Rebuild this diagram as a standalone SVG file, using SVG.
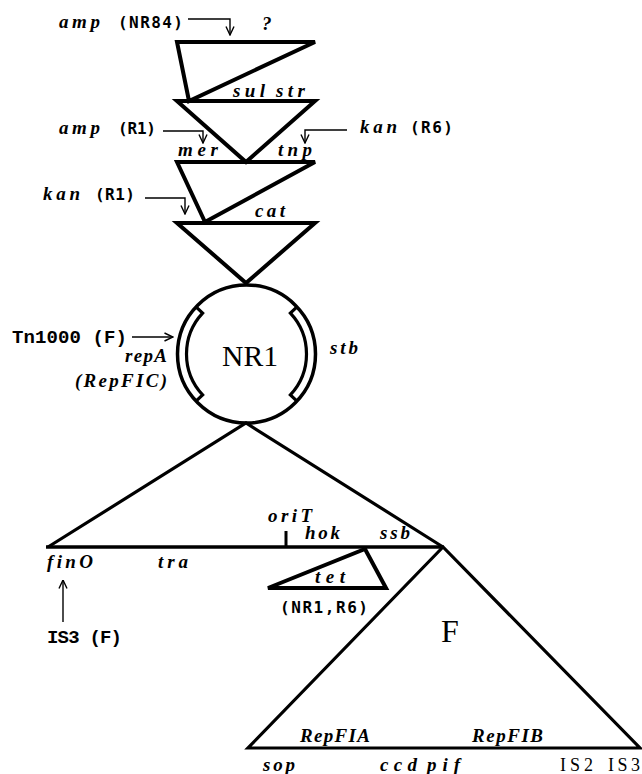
<svg xmlns="http://www.w3.org/2000/svg" width="642" height="774" viewBox="0 0 642 774">
<style>
.g{font-family:"Liberation Serif",serif;font-style:italic;font-weight:bold;font-size:19px;fill:#000}
.m{font-family:"DejaVu Sans Mono",monospace;font-weight:bold;font-size:16px;fill:#000}
.t{font-family:"Liberation Mono",monospace;font-weight:bold;font-size:19px;fill:#000}
.s{font-family:"Liberation Serif",serif;fill:#000}
.tri{fill:none;stroke:#000;stroke-width:4;stroke-linejoin:miter}
.big{fill:none;stroke:#000;stroke-width:3.2;stroke-linejoin:miter}
.arr{fill:none;stroke:#000;stroke-width:1.4}
</style>
<defs>
<marker id="ah" viewBox="0 0 10 10" refX="9.5" refY="5" markerWidth="10" markerHeight="10" markerUnits="userSpaceOnUse" orient="auto">
<path d="M1,1 L9.5,5 L1,9" fill="none" stroke="#000" stroke-width="1.4"/>
</marker>
</defs>
<rect width="642" height="774" fill="#fff"/>

<g id="ins-nr84">
<polygon class="tri" points="177,42 315,42 189,101"/>
<text class="g" x="59" y="28" textLength="41" lengthAdjust="spacing">amp</text>
<text class="m" x="118" y="28" textLength="65" lengthAdjust="spacing">(NR84)</text>
<text class="g" x="262" y="30">?</text>
</g>

<g id="ins-sul-str">
<polygon class="tri" points="177,101 315,101 246,162"/>
<text class="g" x="233" y="97" textLength="32" lengthAdjust="spacing">sul</text>
<text class="g" x="276" y="97" textLength="29" lengthAdjust="spacing">str</text>
<text class="g" x="59" y="134" textLength="41" lengthAdjust="spacing">amp</text>
<text class="m" x="118" y="134" textLength="38" lengthAdjust="spacing">(R1)</text>
<text class="g" x="360" y="133" textLength="37" lengthAdjust="spacing">kan</text>
<text class="m" x="410" y="133" textLength="43" lengthAdjust="spacing">(R6)</text>
</g>

<g id="ins-mer-tnp">
<polygon class="tri" points="177,162 315,162 205,222"/>
<text class="g" x="178" y="156" textLength="40" lengthAdjust="spacing">mer</text>
<text class="g" x="278" y="156" textLength="34" lengthAdjust="spacing">tnp</text>
<text class="g" x="43" y="200" textLength="37" lengthAdjust="spacing">kan</text>
<text class="m" x="95" y="200" textLength="40" lengthAdjust="spacing">(R1)</text>
</g>

<g id="ins-cat">
<polygon class="tri" points="177,223 315,223 246,283"/>
<text class="g" x="255" y="217" textLength="30" lengthAdjust="spacing">cat</text>
</g>

<g id="nr1">
<circle cx="246.5" cy="354" r="69" fill="none" stroke="#000" stroke-width="3.5"/>
<path d="M196,306.9 L202.6,313.1 A60,60 0 0 0 202.6,394.9 L196,401.1" fill="none" stroke="#000" stroke-width="3.2"/>
<path d="M297,306.9 L290.4,313.1 A60,60 0 0 1 290.4,394.9 L297,401.1" fill="none" stroke="#000" stroke-width="3.2"/>
<text class="s" x="222" y="366" font-size="30" textLength="56" lengthAdjust="spacingAndGlyphs">NR1</text>
<text class="t" x="12" y="343" textLength="115" lengthAdjust="spacing">Tn1000 (F)</text>
<text class="g" x="125" y="362" textLength="42" lengthAdjust="spacing">repA</text>
<text class="g" x="75" y="387" textLength="92" lengthAdjust="spacing">(RepFIC)</text>
<text class="g" x="330" y="354" textLength="28" lengthAdjust="spacing">stb</text>
</g>

<g id="tra-region">
<polyline class="big" points="48,547 246,423 443,547"/>
<line x1="46" y1="547" x2="443" y2="547" stroke="#000" stroke-width="3.5"/>
<line x1="286" y1="547" x2="286" y2="531" stroke="#000" stroke-width="3"/>
<text class="g" x="268" y="522" textLength="44" lengthAdjust="spacing">oriT</text>
<text class="g" x="305" y="539" textLength="35" lengthAdjust="spacing">hok</text>
<text class="g" x="380" y="539" textLength="30" lengthAdjust="spacing">ssb</text>
<text class="g" x="47" y="568" textLength="46" lengthAdjust="spacing">finO</text>
<text class="g" x="158" y="568" textLength="30" lengthAdjust="spacing">tra</text>
<text class="t" x="47" y="643" textLength="75" lengthAdjust="spacing">IS3 (F)</text>
</g>

<g id="ins-tet">
<polygon class="tri" points="268,588 386,588 365,549" stroke-width="3.5"/>
<text class="g" x="315" y="583" textLength="30" lengthAdjust="spacing">tet</text>
<text class="m" x="280" y="613" textLength="88" lengthAdjust="spacing">(NR1,R6)</text>
</g>

<g id="f-region">
<polygon class="big" points="443,547 248,748 640,748"/>
<text class="s" x="450" y="642" font-size="32" text-anchor="middle">F</text>
<text class="g" x="300" y="742" textLength="70" lengthAdjust="spacing">RepFIA</text>
<text class="g" x="472" y="742" textLength="71" lengthAdjust="spacing">RepFIB</text>
<text class="g" x="263" y="771" textLength="32" lengthAdjust="spacing">sop</text>
<text class="g" x="380" y="771" textLength="37" lengthAdjust="spacing">ccd</text>
<text class="g" x="427" y="771" textLength="33" lengthAdjust="spacing">pif</text>
<text class="s" x="560" y="771" font-size="18" textLength="33" lengthAdjust="spacing">IS2</text>
<text class="s" x="608" y="771" font-size="18" textLength="32" lengthAdjust="spacing">IS3</text>
</g>

<g id="connectors">
<path class="arr" d="M188,19 H230 V35" marker-end="url(#ah)"/>
<path class="arr" d="M163,131 H203 V143" marker-end="url(#ah)"/>
<path class="arr" d="M347,130 H305 V143" marker-end="url(#ah)"/>
<path class="arr" d="M145,198 H185 V214" marker-end="url(#ah)"/>
<path class="arr" d="M132,337 H173" marker-end="url(#ah)"/>
<path class="arr" d="M63,622 V580" marker-end="url(#ah)"/>
</g>
</svg>
